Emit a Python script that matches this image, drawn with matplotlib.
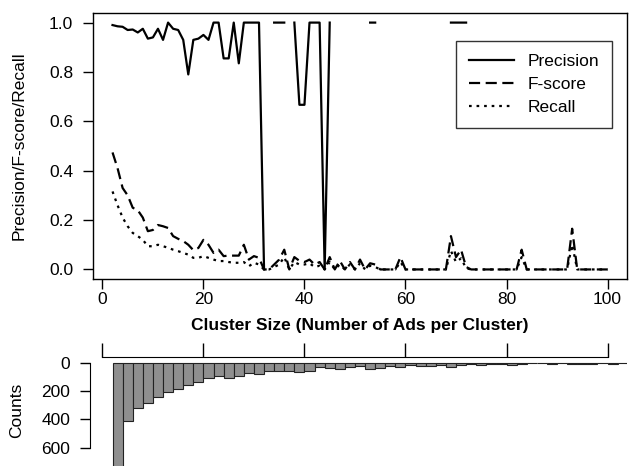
#precision / f-score / recall by cluster size, with counts underneath
import numpy as np
import matplotlib
matplotlib.use('Agg')
import matplotlib.pyplot as plt

plt.rcParams['font.family'] = ['Liberation Sans', 'DejaVu Sans']
plt.rcParams['font.size'] = 12.5

nan = np.nan

#cluster sizes 2..100
cluster_size = list(range(2, 101))

precision = [0.99, 0.985, 0.983, 0.97, 0.972, 0.96, 0.975, 0.935, 0.94, 0.975,   # 2-11
             0.93, 1.0, 0.975, 0.97, 0.93, 0.79, 0.93, 0.935, 0.95, 0.93,        # 12-21
             1.0, 1.0, 0.855, 0.855, 1.0, 0.835, 1.0, 1.0, 1.0, 1.0,             # 22-31
             0.0, nan, 1.0, 1.0, 1.0, nan, 1.0, 0.667, 0.667, 1.0,               # 32-41
             1.0, 1.0, 0.0, 1.0, nan, 1.0, nan, 1.0, nan, 1.0,                   # 42-51
             nan, 1.0, 1.0, nan, nan, nan, nan, 1.0, nan, nan,                   # 52-61
             nan, nan, nan, nan, nan, nan, nan, 1.0, 1.0, 1.0,                   # 62-71
             1.0, nan, nan, nan, nan, nan, nan, nan, nan, nan,                   # 72-81
             nan, 1.0, nan, nan, nan, nan, nan, nan, nan, nan,                   # 82-91
             nan, 1.0, nan, nan, nan, nan, nan, nan, nan]                        # 92-100

fscore = [0.474, 0.41, 0.33, 0.30, 0.25, 0.24, 0.21, 0.155, 0.16, 0.18,          # 2-11
          0.175, 0.168, 0.135, 0.124, 0.115, 0.10, 0.078, 0.087, 0.12, 0.10,     # 12-21
          0.067, 0.08, 0.054, 0.056, 0.056, 0.056, 0.10, 0.04, 0.054, 0.047,     # 22-31
          0.0, 0.0, 0.02, 0.04, 0.08, 0.0, 0.05, 0.035, 0.03, 0.04,             # 32-41
          0.02, 0.03, 0.0, 0.05, 0.0, 0.035, 0.0, 0.03, 0.0, 0.04,              # 42-51
          0.0, 0.025, 0.02, 0.0, 0.0, 0.0, 0.0, 0.05, 0.0, 0.0,                 # 52-61
          0.0, 0.0, 0.0, 0.0, 0.0, 0.0, 0.0, 0.135, 0.05, 0.08,                 # 62-71
          0.01, 0.0, 0.0, 0.0, 0.0, 0.0, 0.0, 0.0, 0.0, 0.0,                    # 72-81
          0.0, 0.08, 0.0, 0.0, 0.0, 0.0, 0.0, 0.0, 0.0, 0.0,                    # 82-91
          0.0, 0.165, 0.0, 0.0, 0.0, 0.0, 0.0, 0.0, 0.0]                        # 92-100

recall = [0.316, 0.26, 0.21, 0.175, 0.148, 0.135, 0.12, 0.094, 0.094, 0.10,      # 2-11
          0.094, 0.088, 0.08, 0.074, 0.067, 0.06, 0.047, 0.047, 0.054, 0.047,    # 12-21
          0.04, 0.034, 0.034, 0.03, 0.027, 0.027, 0.03, 0.013, 0.027, 0.02,     # 22-31
          0.0, 0.0, 0.01, 0.02, 0.05, 0.0, 0.03, 0.02, 0.02, 0.025,             # 32-41
          0.01, 0.015, 0.0, 0.03, 0.0, 0.02, 0.0, 0.02, 0.0, 0.025,             # 42-51
          0.0, 0.015, 0.01, 0.0, 0.0, 0.0, 0.0, 0.03, 0.0, 0.0,                 # 52-61
          0.0, 0.0, 0.0, 0.0, 0.0, 0.0, 0.0, 0.075, 0.03, 0.045,                # 62-71
          0.005, 0.0, 0.0, 0.0, 0.0, 0.0, 0.0, 0.0, 0.0, 0.0,                   # 72-81
          0.0, 0.05, 0.0, 0.0, 0.0, 0.0, 0.0, 0.0, 0.0, 0.0,                    # 82-91
          0.0, 0.10, 0.0, 0.0, 0.0, 0.0, 0.0, 0.0, 0.0]                         # 92-100

#histogram of cluster sizes, bins of width 2 starting at 2
bin_left = list(range(2, 104, 2))
counts = [780, 412, 322, 287, 240, 209, 184, 158, 134, 110,
          94, 110, 94, 75, 80, 57, 62, 57, 68, 57,
          33, 40, 45, 33, 23, 45, 40, 23, 28, 17,
          21, 23, 17, 33, 17, 9, 17, 9, 9, 17,
          9, 5, 4, 11, 4, 11, 11, 9, 4, 11, 4]

xticks = [0, 20, 40, 60, 80, 100]
yticks = [0.0, 0.2, 0.4, 0.6, 0.8, 1.0]
count_ticks = [0, 200, 400, 600]

fig = plt.figure(figsize=(6.32, 4.66), dpi=100)

# top panel
ax = fig.add_axes([0.1467, 0.4006, 0.8459, 0.5721])
lw = 1.6
ax.plot(cluster_size, precision, color='black', lw=lw, label='Precision')
ax.plot(cluster_size, fscore, color='black', lw=lw, dashes=(5, 2.5), label='F-score')
ax.plot(cluster_size, recall, color='black', lw=lw, dashes=(1.2, 2.2), label='Recall')
ax.set_xlim(-1.92, 103.92)
ax.set_ylim(-0.04, 1.04)
ax.set_xticks(xticks)
ax.set_yticks(yticks)
ax.set_yticklabels(['%.1f' % v for v in yticks])
ax.tick_params(direction='out', length=7, width=1, labelsize=12.5, colors='black')
ax.tick_params(axis='x', pad=2)
ax.tick_params(axis='y', pad=7)
for s in ax.spines.values():
    s.set_linewidth(1)
    s.set_color('black')
ax.set_xlabel('Cluster Size (Number of Ads per Cluster)', fontweight='bold', fontsize=12.5)
ax.xaxis.set_label_coords(0.5, -0.145)
ax.set_ylabel('Precision/F-score/Recall', fontsize=12.5)
ax.yaxis.set_label_coords(-0.124, 0.5)
leg = ax.legend(loc='upper right', bbox_to_anchor=(0.9714, 0.8938), fontsize=12.5,
                frameon=True, fancybox=False, handlelength=2.6, handletextpad=0.75,
                labelspacing=0.45, borderpad=0.75, borderaxespad=0)
leg.get_frame().set_edgecolor('black')
leg.get_frame().set_linewidth(1)

# bottom panel, counts hanging down
ax2 = fig.add_axes([0.1467, 0.0, 0.8459, 0.2333])
ax2.bar(bin_left, counts, width=2, align='edge', color='#8f8f8f', edgecolor='#222222', linewidth=0.8)
ax2.set_xlim(-1.92, 103.92)
ax2.set_ylim(729, -38)
ax2.spines['right'].set_visible(False)
ax2.spines['bottom'].set_visible(False)
ax2.spines['top'].set_bounds(0, 100)
ax2.spines['left'].set_bounds(0, 600)
ax2.spines['left'].set_position(('outward', 2))
ax2.xaxis.tick_top()
ax2.set_xticks(xticks)
ax2.set_xticklabels([])
ax2.set_yticks(count_ticks)
ax2.tick_params(axis='x', direction='out', length=10, width=1)
ax2.tick_params(axis='y', direction='out', length=7, width=1, pad=7, labelsize=12.5)
ax2.set_ylabel('Counts', fontsize=12.5)
ax2.yaxis.set_label_coords(-0.1285, 0.515)

fig.savefig('out.png', dpi=100)
